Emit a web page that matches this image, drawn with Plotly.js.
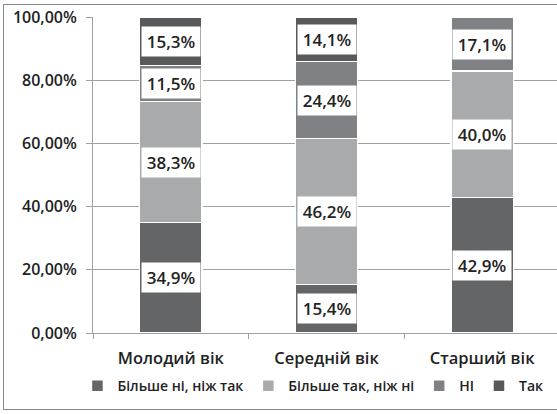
<!DOCTYPE html>
<html><head><meta charset="utf-8">
<script src="https://cdn.plot.ly/plotly-3.0.1.min.js"></script>
<style>
html,body{margin:0;padding:0;background:#fff;overflow:hidden;width:557px;height:414px;}
#frame{position:absolute;left:3px;top:4px;width:600px;height:406px;border:1px solid #8a8a8a;box-sizing:border-box;}
#chart{position:absolute;left:0;top:0;width:562px;height:414px;}
</style></head>
<body>
<div id="frame"></div>
<div id="chart"></div>
<script>
const categories = ["Молодий вік", "Середній вік", "Старший вік"];
const seriesNames = ["Більше ні, ніж так", "Більше так, ніж ні", "НІ", "Так"];
const moreNo = [34.9, 15.4, 42.9];
const moreYes = [38.3, 46.2, 40.0];
const no = [11.5, 24.4, 17.1];
const yes = [15.3, 14.1, 0];
const yTickVals = [0, 20, 40, 60, 80, 100];
const yTickText = ["0,00%", "20,00%", "40,00%", "60,00%", "80,00%", "100,00%"];
const colors = ["#646567", "#a8aaac", "#808184", "#58595b"];

const series = [moreNo, moreYes, no, yes];
const FAM = "Open Sans, DejaVu Sans, sans-serif";

const traces = series.map((vals, i) => ({
  type: "bar", name: seriesNames[i], x: categories, y: vals,
  marker: {color: colors[i], line: {color: "#ffffff", width: 1.5}},
  hoverinfo: "none"
}));

const annotations = [];
categories.forEach((c, ci) => {
  const total = series.reduce((s, v) => s + v[ci], 0);
  let cum = 0;
  series.forEach((vals) => {
    const v = vals[ci];
    if (v > 0) {
      const mid = (cum + v / 2) / total * 100;
      annotations.push({
        x: c, y: mid, xref: "x", yref: "y", showarrow: false,
        text: v.toFixed(1).replace(".", ",") + "%",
        bgcolor: "#ffffff", width: 56, height: 27,
        font: {family: FAM, size: 17, color: "#222", weight: 600}
      });
    }
    cum += v;
  });
});

const layout = {
  width: 562, height: 414,
  margin: {l: 93, r: 2, t: 17, b: 81},
  paper_bgcolor: "rgba(0,0,0,0)", plot_bgcolor: "rgba(0,0,0,0)",
  barmode: "stack", barnorm: "percent", bargap: 0.6,
  font: {family: FAM, size: 14, color: "#222", weight: 600},
  xaxis: {
    type: "category", showgrid: false, showline: true, linecolor: "#a0a0a0", linewidth: 1,
    ticks: "outside", tickson: "boundaries", ticklen: 5, tickcolor: "#a0a0a0",
    ticklabelstandoff: 10,
    tickfont: {family: FAM, size: 16.5, color: "#222", weight: 600}
  },
  yaxis: {
    range: [0, 100], tickvals: yTickVals, ticktext: yTickText,
    showgrid: true, gridcolor: "#a0a0a0", gridwidth: 1,
    showline: true, linecolor: "#a0a0a0", linewidth: 1,
    ticks: "outside", ticklen: 6, tickcolor: "#a0a0a0", zeroline: false,
    ticklabelstandoff: 6,
    tickfont: {family: FAM, size: 16, color: "#222", weight: 600}
  },
  showlegend: true,
  legend: {
    orientation: "h", traceorder: "normal", x: 0.471, xanchor: "center", y: -0.168, yanchor: "middle",
    font: {family: FAM, size: 14, color: "#222", weight: 600},
    itemwidth: 30
  },
  annotations: annotations
};

Plotly.newPlot("chart", traces, layout, {staticPlot: true});
</script>
</body></html>
